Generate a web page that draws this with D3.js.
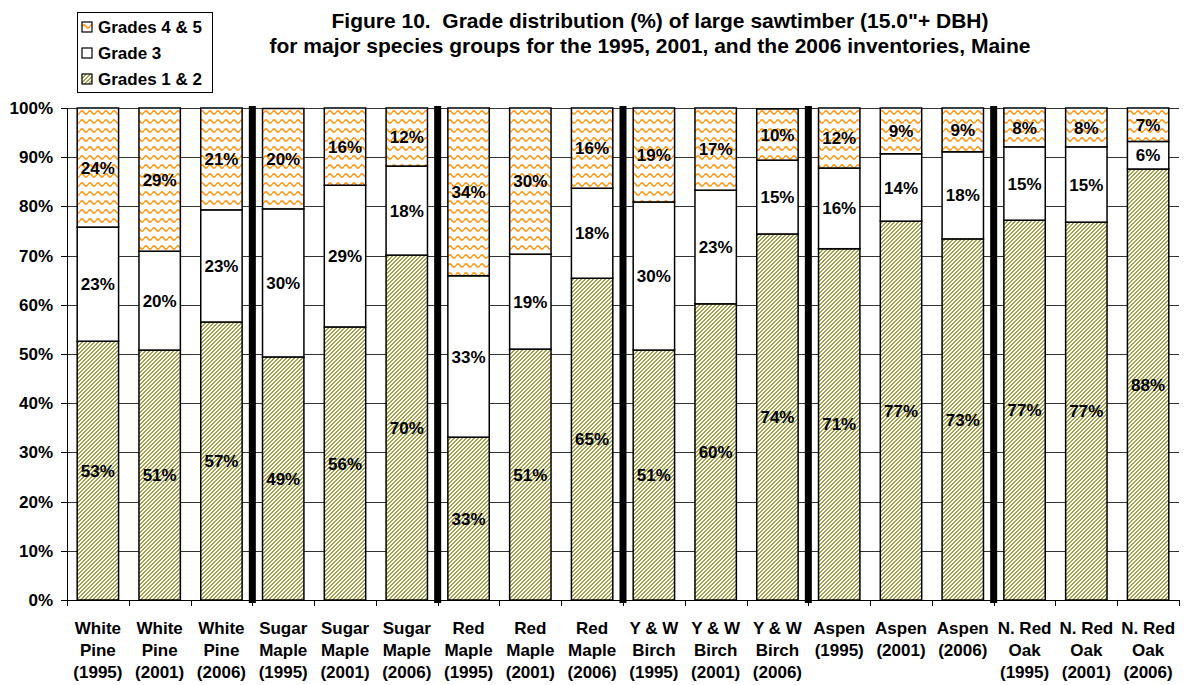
<!DOCTYPE html>
<html lang="en">
<head>
<meta charset="utf-8">
<title>Figure 10 - Grade distribution of large sawtimber</title>
<script src="https://cdn.jsdelivr.net/npm/d3@7"></script>
<style>
  body { margin: 0; background: #fff; }
  svg { display: block; font-family: "Liberation Sans", Arial, sans-serif; }
  .axis path, .axis line { stroke: #000; shape-rendering: crispEdges; }
  .axis text { font-size: 17px; font-weight: bold; fill: #000; }
  .title { font-family: "Liberation Sans Narrow", "Arial Narrow", "Liberation Sans", sans-serif; font-weight: bold; font-size: 21px; white-space: pre; }
  .vlabel { font-size: 17px; font-weight: bold; }
  .xlabel { font-size: 17px; font-weight: bold; }
  .legend text { font-size: 17px; font-weight: bold; }
</style>
</head>
<body>
<script>
// categories (species group + inventory year)
var species = ["White Pine", "White Pine", "White Pine",
               "Sugar Maple", "Sugar Maple", "Sugar Maple",
               "Red Maple", "Red Maple", "Red Maple",
               "Y & W Birch", "Y & W Birch", "Y & W Birch",
               "Aspen", "Aspen", "Aspen",
               "N. Red Oak", "N. Red Oak", "N. Red Oak"];
var years = ["1995", "2001", "2006", "1995", "2001", "2006", "1995", "2001", "2006",
             "1995", "2001", "2006", "1995", "2001", "2006", "1995", "2001", "2006"];
// how each species name wraps on the x axis
var nameLines = {
  "White Pine": ["White", "Pine"],
  "Sugar Maple": ["Sugar", "Maple"],
  "Red Maple": ["Red", "Maple"],
  "Y & W Birch": ["Y & W", "Birch"],
  "Aspen": ["Aspen"],
  "N. Red Oak": ["N. Red", "Oak"]
};

// percent of volume by grade
var grades12 = [52.6, 50.8, 56.5, 49.4, 55.5, 70.1, 33.1, 51.0, 65.4, 50.8, 60.2, 74.4, 71.4, 77.0, 73.4, 77.2, 76.8, 87.6];
var grade3   = [23.2, 20.1, 22.8, 30.1, 28.8, 18.1, 32.8, 19.3, 18.3, 30.1, 23.1, 15.0, 16.4, 13.7, 17.7, 14.9, 15.3, 5.6];
var grades45 = [24.2, 29.1, 20.7, 20.4, 15.7, 11.8, 34.1, 29.7, 16.3, 19.1, 16.7, 10.4, 12.2, 9.3, 8.9, 7.9, 7.9, 6.8];

var seriesKeys = ["g12", "g3", "g45"];
var seriesNames = {g12: "Grades 1 & 2", g3: "Grade 3", g45: "Grades 4 & 5"};
var yTicks = [0, 10, 20, 30, 40, 50, 60, 70, 80, 90, 100];

var table = species.map(function(s, i) {
  return {id: i, species: s, year: years[i], g12: grades12[i], g3: grade3[i], g45: grades45[i]};
});

var W = 1184, H = 685;
var margin = {top: 108, right: 5, bottom: 85, left: 67};
var plotW = W - margin.left - margin.right;
var plotH = H - margin.top - margin.bottom;

var svg = d3.select("body").append("svg")
  .attr("width", W)
  .attr("height", H);

// patterns
var defs = svg.append("defs");
var stripe = defs.append("pattern")
  .attr("id", "stripe")
  .attr("patternUnits", "userSpaceOnUse")
  .attr("width", 4).attr("height", 4);
stripe.append("rect").attr("width", 4).attr("height", 4).attr("fill", "#fff");
// pixel diagonal, 2 on / 2 off, rising to the right
[0, 1, 2, 3].forEach(function(r) {
  [-4, 0].forEach(function(off) {
    stripe.append("rect")
      .attr("x", 3 - r + off).attr("y", r)
      .attr("width", 2).attr("height", 1)
      .attr("fill", "#a4a44c")
      .attr("shape-rendering", "crispEdges");
  });
});

var wave = defs.append("pattern")
  .attr("id", "wave")
  .attr("patternUnits", "userSpaceOnUse")
  .attr("width", 8).attr("height", 9);
wave.append("rect").attr("width", 8).attr("height", 9).attr("fill", "#fff");
wave.append("path")
  .attr("d", "M0,4.5 Q2,1.2 4,4.5 T8,4.5")
  .attr("fill", "none")
  .attr("stroke", "#ff9a1a")
  .attr("stroke-width", 1.6);

var fills = {g12: "url(#stripe)", g3: "#fff", g45: "url(#wave)"};

var x = d3.scaleBand()
  .domain(table.map(function(d) { return d.id; }))
  .range([margin.left, margin.left + plotW])
  .paddingInner(0.33)
  .paddingOuter(0.165);

var y = d3.scaleLinear()
  .domain([0, 100])
  .range([margin.top + plotH, margin.top]);

var step = x.step();
var halfGap = step * x.paddingInner() / 2;

// horizontal gridlines
svg.append("g")
  .selectAll("line")
  .data(yTicks)
  .enter()
  .append("line")
  .attr("x1", margin.left)
  .attr("x2", margin.left + plotW)
  .attr("y1", function(d) { return Math.round(y(d)) + 0.5; })
  .attr("y2", function(d) { return Math.round(y(d)) + 0.5; })
  .attr("stroke", "#333")
  .attr("stroke-width", 1);

// stacked bars
var stacked = d3.stack().keys(seriesKeys)(table);

var layers = svg.append("g")
  .selectAll("g")
  .data(stacked)
  .enter()
  .append("g")
  .attr("fill", function(d) { return fills[d.key]; });

layers.selectAll("rect")
  .data(function(d) { return d; })
  .enter()
  .append("rect")
  .attr("x", function(d) { return x(d.data.id); })
  .attr("width", x.bandwidth())
  .attr("y", function(d) { return y(d[1]); })
  .attr("height", function(d) { return y(d[0]) - y(d[1]); })
  .attr("stroke", "#000")
  .attr("stroke-width", 1.5);

// value labels
layers.selectAll("text")
  .data(function(d) { return d; })
  .enter()
  .append("text")
  .attr("class", "vlabel")
  .attr("x", function(d) { return x(d.data.id) + x.bandwidth() / 2; })
  .attr("y", function(d) { return (y(d[0]) + y(d[1])) / 2; })
  .attr("dy", "0.36em")
  .attr("text-anchor", "middle")
  .attr("fill", "#000")
  .text(function(d) { return Math.round(d[1] - d[0]) + "%"; });

// thick black separators between species groups
var breaks = table.filter(function(d, i) { return i > 0 && d.species !== table[i - 1].species; });
svg.append("g")
  .selectAll("rect")
  .data(breaks)
  .enter()
  .append("rect")
  .attr("x", function(d) { return x(d.id) - halfGap - 3.5; })
  .attr("width", 7)
  .attr("y", y(100) - 2)
  .attr("height", y(0) - y(100) + 5)
  .attr("fill", "#000");

// y axis
var yAxis = d3.axisLeft(y)
  .tickValues(yTicks)
  .tickSize(6)
  .tickPadding(8)
  .tickFormat(function(d) { return d + "%"; });

svg.append("g")
  .attr("class", "axis")
  .attr("transform", "translate(" + margin.left + ",0)")
  .call(yAxis)
  .call(function(g) { g.select(".domain").attr("d", "M0.5," + y(0) + "V" + y(100)); });

// x axis: line + ticks at band boundaries
var xg = svg.append("g").attr("class", "axis");
xg.append("line")
  .attr("x1", margin.left)
  .attr("x2", margin.left + plotW)
  .attr("y1", y(0) + 0.5)
  .attr("y2", y(0) + 0.5);

var tickPos = table.map(function(d) { return x(d.id) - halfGap; });
tickPos.push(x(table[table.length - 1].id) + x.bandwidth() + halfGap);
xg.selectAll(".xt")
  .data(tickPos)
  .enter()
  .append("line")
  .attr("class", "xt")
  .attr("x1", function(d) { return Math.round(d) + 0.5; })
  .attr("x2", function(d) { return Math.round(d) + 0.5; })
  .attr("y1", y(0))
  .attr("y2", y(0) + 6);

// x labels
var xl = svg.append("g")
  .selectAll("text")
  .data(table)
  .enter()
  .append("text")
  .attr("class", "xlabel")
  .attr("text-anchor", "middle")
  .attr("x", function(d) { return x(d.id) + x.bandwidth() / 2; })
  .attr("y", 634);

xl.selectAll("tspan")
  .data(function(d) { return nameLines[d.species].concat(["(" + d.year + ")"]); })
  .enter()
  .append("tspan")
  .attr("x", function() { return d3.select(this.parentNode).attr("x"); })
  .attr("dy", function(d, i) { return i === 0 ? 0 : 22; })
  .text(function(d) { return d; });

// title
var title = svg.append("text")
  .attr("class", "title")
  .attr("text-anchor", "middle");
title.append("tspan").attr("x", 660).attr("y", 28)
  .text("Figure 10.  Grade distribution (%) of large sawtimber (15.0\"+ DBH)");
title.append("tspan").attr("x", 650).attr("y", 53)
  .text("for major species groups for the 1995, 2001, and the 2006 inventories, Maine");

// legend
var legend = svg.append("g").attr("class", "legend");
legend.append("rect")
  .attr("x", 77.5).attr("y", 12.5)
  .attr("width", 135).attr("height", 80)
  .attr("fill", "#fff")
  .attr("stroke", "#000");

var legendKeys = ["g45", "g3", "g12"];
var li = legend.selectAll(".li")
  .data(legendKeys)
  .enter()
  .append("g")
  .attr("class", "li")
  .attr("transform", function(d, i) { return "translate(82," + (22 + i * 26) + ")"; });
li.append("rect")
  .attr("width", 10).attr("height", 10)
  .attr("fill", function(d) { return fills[d]; })
  .attr("stroke", "#000")
  .attr("stroke-width", 1.2);
li.append("text")
  .attr("x", 16)
  .attr("y", 11)
  .text(function(d) { return seriesNames[d]; });
</script>
</body>
</html>
